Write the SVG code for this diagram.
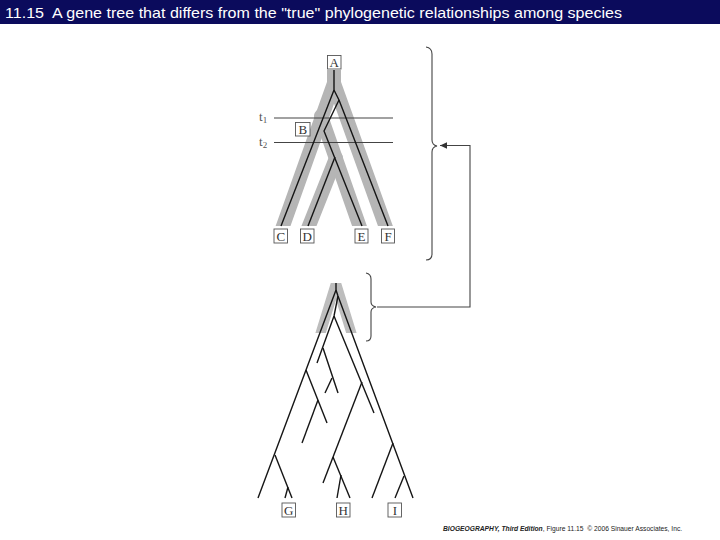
<svg xmlns="http://www.w3.org/2000/svg" width="720" height="540" viewBox="0 0 720 540">
<style>
.band{fill:none;stroke:#b5b5b5;stroke-width:14;stroke-linecap:round;stroke-linejoin:round}
.band2{fill:none;stroke:#bdbdbd;stroke-width:10;stroke-linecap:round}
.gl{fill:none;stroke:#151515;stroke-width:1.4;stroke-linejoin:round;stroke-linecap:butt}
.thin{fill:none;stroke:#444;stroke-width:1.1}
.box{fill:#fff;stroke:#555;stroke-width:0.9}
.lab{font-family:"Liberation Serif","DejaVu Serif",serif;font-size:13px;fill:#333;text-anchor:middle}
.tl{font-family:"Liberation Serif","DejaVu Serif",serif;font-size:13px;fill:#555}
</style>
<defs>
<clipPath id="clipTop"><rect x="0" y="70" width="720" height="156"/></clipPath>
<clipPath id="clipBot"><rect x="0" y="283" width="720" height="50"/></clipPath>
<marker id="arr" markerWidth="8" markerHeight="8" refX="7" refY="4" orient="auto" markerUnits="userSpaceOnUse">
<path d="M0,0.8 L7,4 L0,7.2 Z" fill="#333"/>
</marker>
</defs>
<rect x="0" y="0" width="720" height="540" fill="#fff"/>
<g id="title">
<rect x="0" y="0" width="720" height="24" fill="#0b0b5c"/>
<text x="5" y="18" font-family="Liberation Sans, Arial, sans-serif" font-size="15" fill="#fff" textLength="617" lengthAdjust="spacingAndGlyphs" xml:space="preserve">11.15  A gene tree that differs from the "true" phylogenetic relationships among species</text>
</g>
<g id="species-bands" clip-path="url(#clipTop)">
<path class="band" d="M334,60 L334,83 L279.5,236"/>
<path class="band" d="M334,60 L334,83 L389,236"/>
<path class="band" d="M321,116 L363,236"/>
<path class="band" d="M336,158 L305,236"/>
</g>
<g id="time-lines">
<line class="thin" x1="274" y1="118" x2="393" y2="118"/>
<line class="thin" x1="274" y1="142.5" x2="393" y2="142.5"/>
<text class="tl" x="259" y="121">t<tspan font-size="9" dy="2">1</tspan></text>
<text class="tl" x="259" y="146">t<tspan font-size="9" dy="2">2</tspan></text>
</g>
<g id="bottom-bands" clip-path="url(#clipBot)">
<path class="band2" d="M336,283 L320,335"/>
<path class="band2" d="M336,283 L352,335"/>
</g>
<g id="connectors">
<g id="gene-tree-top">
<path class="gl" d="M334,70 L334,90 L281,226"/>
<path class="gl" d="M334,90 L339,100 L388,226"/>
<path class="gl" d="M339,100 L324,131 L362,226"/>
<path class="gl" d="M335,157 L308,226"/>
</g>
<g id="gene-tree-bottom">
<path class="gl" d="M336,283 L336,290 L258,498"/>
<path class="gl" d="M336,290 L338,296 L413,498"/>
<path class="gl" d="M338,296 L334,316 L317,363"/>
<path class="gl" d="M334,316 L374,413"/>
<path class="gl" d="M323,348 L338,393"/>
<path class="gl" d="M332,378 L325,393"/>
<path class="gl" d="M306,370 L327,423"/>
<path class="gl" d="M318,400 L302,443"/>
<path class="gl" d="M275,455 L292,498"/>
<path class="gl" d="M288,487 L285,498"/>
<path class="gl" d="M362,382 L323,483"/>
<path class="gl" d="M333,457 L350,498"/>
<path class="gl" d="M341,475 L337,498"/>
<path class="gl" d="M393,443 L372,498"/>
<path class="gl" d="M404,476 L395,498"/>
</g>
<g id="braces">
<path class="thin" d="M426,47 Q432,48 432,54 L432,140 Q432,145 437,146 Q432,147 432,152 L432,254 Q432,260 426,260"/>
<path class="thin" d="M366,273 Q371,274 371,279 L371,302 Q371,306 376,307 Q371,308 371,312 L371,336 Q371,341 366,341"/>
</g>
<path id="arrow" class="thin" d="M377,307 H470 V145.5 H440" marker-end="url(#arr)"/>
</g>
<g id="node-A"><rect class="box" x="327.5" y="55.5" width="13.5" height="13.5"/><text class="lab" x="334.3" y="67">A</text></g>
<g id="node-B"><rect class="box" x="295.5" y="122.5" width="14.5" height="13.5"/><text class="lab" x="302.8" y="134">B</text></g>
<g id="node-C"><rect class="box" x="274" y="229" width="13.5" height="14"/><text class="lab" x="280.8" y="241">C</text></g>
<g id="node-D"><rect class="box" x="300.5" y="229" width="13.5" height="14"/><text class="lab" x="307.3" y="241">D</text></g>
<g id="node-E"><rect class="box" x="355" y="229" width="13" height="14"/><text class="lab" x="361.5" y="241">E</text></g>
<g id="node-F"><rect class="box" x="381.5" y="229" width="13" height="14"/><text class="lab" x="388" y="241">F</text></g>
<g id="node-G"><rect class="box" x="282" y="503" width="13.5" height="14"/><text class="lab" x="288.8" y="515">G</text></g>
<g id="node-H"><rect class="box" x="336.5" y="503" width="13.5" height="14"/><text class="lab" x="343.3" y="515">H</text></g>
<g id="node-I"><rect class="box" x="388" y="503" width="13.5" height="14"/><text class="lab" x="394.8" y="515">I</text></g>
<g id="credit">
<text x="443" y="531" font-family="Liberation Sans, Arial, sans-serif" font-size="6.7" fill="#222" xml:space="preserve"><tspan font-weight="bold" font-style="italic">BIOGEOGRAPHY, Third Edition</tspan>, Figure 11.15  © 2006 Sinauer Associates, Inc.</text>
</g>
</svg>
